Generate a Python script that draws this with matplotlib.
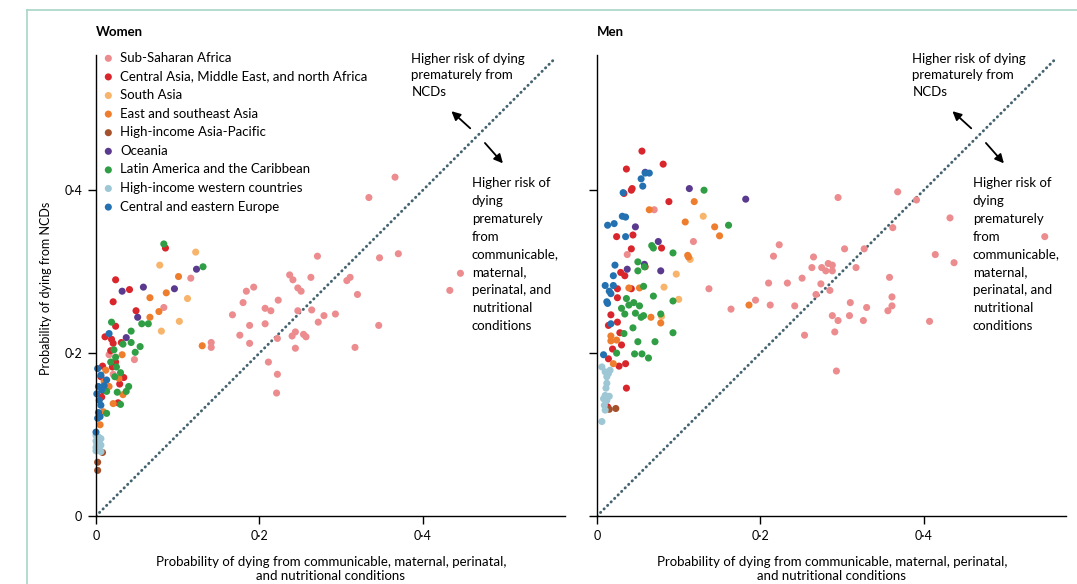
import matplotlib
matplotlib.use("Agg")
import matplotlib.pyplot as plt
from matplotlib import font_manager
from matplotlib.lines import Line2D

# ---- data: (x, y) = (communicable prob, NCD prob) -------------------------
regions = [
    "Sub-Saharan Africa",
    "Central Asia, Middle East, and north Africa",
    "South Asia",
    "East and southeast Asia",
    "High-income Asia-Pacific",
    "Oceania",
    "Latin America and the Caribbean",
    "High-income western countries",
    "Central and eastern Europe",
]
colors = ["#EC8C8E", "#D9262C", "#F7B46A", "#EE7E2D", "#A4512C",
          "#5A3A8E", "#2F9E44", "#9DC7D5", "#2471B1"]

women_ssa = [(0.366, 0.416), (0.334, 0.391), (0.271, 0.319), (0.347, 0.317), (0.370, 0.322),
             (0.446, 0.298), (0.433, 0.277), (0.116, 0.292), (0.237, 0.296), (0.241, 0.290),
             (0.263, 0.293), (0.247, 0.280), (0.251, 0.276), (0.184, 0.276), (0.193, 0.281),
             (0.180, 0.262), (0.223, 0.265), (0.207, 0.255), (0.214, 0.252), (0.167, 0.247),
             (0.247, 0.252), (0.264, 0.253), (0.311, 0.293), (0.307, 0.289), (0.320, 0.272),
             (0.279, 0.246), (0.293, 0.248), (0.272, 0.238), (0.188, 0.234), (0.207, 0.236),
             (0.176, 0.222), (0.188, 0.212), (0.222, 0.218), (0.240, 0.221), (0.244, 0.226),
             (0.254, 0.223), (0.257, 0.220), (0.244, 0.206), (0.317, 0.207), (0.346, 0.234),
             (0.211, 0.189), (0.222, 0.174), (0.221, 0.151), (0.141, 0.213), (0.141, 0.207),
             (0.083, 0.256), (0.047, 0.192), (0.016, 0.198), (0.021, 0.174)]
women_cme = [(0.085, 0.329), (0.024, 0.290), (0.041, 0.278), (0.021, 0.263), (0.049, 0.252),
             (0.024, 0.233), (0.011, 0.220), (0.019, 0.217), (0.021, 0.212), (0.031, 0.213),
             (0.018, 0.203), (0.024, 0.189), (0.008, 0.184), (0.020, 0.183), (0.006, 0.171),
             (0.034, 0.170), (0.029, 0.162), (0.007, 0.146), (0.027, 0.139), (0.008, 0.154)]
women_sa = [(0.122, 0.324), (0.078, 0.308), (0.112, 0.267), (0.102, 0.239), (0.080, 0.227)]
women_esa = [(0.101, 0.294), (0.086, 0.274), (0.066, 0.268), (0.077, 0.251), (0.066, 0.244),
             (0.130, 0.209), (0.032, 0.198), (0.012, 0.179), (0.010, 0.165), (0.016, 0.159),
             (0.028, 0.169), (0.033, 0.149), (0.021, 0.138), (0.009, 0.128), (0.005, 0.112)]
women_hap = [(0.008, 0.078), (0.002, 0.066), (0.002, 0.056)]
women_oce = [(0.123, 0.303), (0.058, 0.281), (0.032, 0.276), (0.096, 0.279), (0.051, 0.244),
             (0.037, 0.219)]
women_lac = [(0.083, 0.334), (0.131, 0.306), (0.056, 0.236), (0.064, 0.236), (0.019, 0.238),
             (0.043, 0.227), (0.043, 0.213), (0.054, 0.208), (0.048, 0.201), (0.033, 0.211),
             (0.022, 0.204), (0.018, 0.189), (0.024, 0.195), (0.025, 0.183), (0.030, 0.176),
             (0.023, 0.171), (0.040, 0.159), (0.037, 0.153), (0.026, 0.152), (0.013, 0.153),
             (0.030, 0.137), (0.013, 0.126)]
women_hiw = [(0.000, 0.099), (0.003, 0.097), (0.006, 0.095), (0.000, 0.092), (0.004, 0.091),
             (0.001, 0.088), (0.006, 0.087), (0.000, 0.084), (0.004, 0.082), (0.000, 0.080),
             (0.006, 0.079)]
women_cee = [(0.016, 0.224), (0.002, 0.181), (0.006, 0.173), (0.003, 0.159), (0.007, 0.155),
             (0.013, 0.167), (0.004, 0.142), (0.006, 0.136), (0.003, 0.127), (0.005, 0.122),
             (0.002, 0.120), (0.000, 0.103), (0.010, 0.160), (0.001, 0.150)]

men_ssa = [(0.070, 0.376), (0.118, 0.337), (0.037, 0.321), (0.137, 0.279), (0.164, 0.254),
           (0.194, 0.265), (0.212, 0.259), (0.210, 0.286), (0.216, 0.319), (0.223, 0.333),
           (0.295, 0.391), (0.368, 0.398), (0.391, 0.388), (0.432, 0.366), (0.362, 0.354),
           (0.548, 0.343), (0.265, 0.318), (0.303, 0.328), (0.327, 0.328), (0.414, 0.321),
           (0.437, 0.311), (0.263, 0.305), (0.275, 0.305), (0.283, 0.310), (0.288, 0.308),
           (0.280, 0.301), (0.288, 0.301), (0.317, 0.305), (0.251, 0.292), (0.233, 0.286),
           (0.274, 0.285), (0.358, 0.293), (0.285, 0.277), (0.268, 0.272), (0.361, 0.269),
           (0.242, 0.258), (0.310, 0.262), (0.330, 0.256), (0.361, 0.258), (0.356, 0.252),
           (0.288, 0.246), (0.309, 0.246), (0.295, 0.240), (0.326, 0.240), (0.407, 0.239),
           (0.291, 0.226), (0.254, 0.222), (0.293, 0.178)]
men_cme = [(0.055, 0.448), (0.081, 0.432), (0.036, 0.426), (0.043, 0.402), (0.042, 0.400),
           (0.033, 0.396), (0.088, 0.386), (0.024, 0.343), (0.044, 0.345), (0.042, 0.328),
           (0.079, 0.329), (0.029, 0.299), (0.034, 0.295), (0.025, 0.279), (0.025, 0.268),
           (0.042, 0.279), (0.017, 0.247), (0.014, 0.234), (0.025, 0.238), (0.028, 0.225),
           (0.030, 0.210), (0.019, 0.205), (0.014, 0.193), (0.027, 0.184), (0.035, 0.187),
           (0.036, 0.157), (0.013, 0.134)]
men_sa = [(0.130, 0.368), (0.114, 0.315), (0.097, 0.297), (0.082, 0.281), (0.100, 0.266),
          (0.079, 0.245)]
men_esa = [(0.119, 0.386), (0.064, 0.376), (0.108, 0.361), (0.144, 0.355), (0.150, 0.344),
           (0.111, 0.320), (0.112, 0.318), (0.039, 0.280), (0.052, 0.280), (0.066, 0.244),
           (0.078, 0.237), (0.017, 0.221), (0.017, 0.215), (0.024, 0.216), (0.020, 0.187),
           (0.186, 0.259)]
men_hap = [(0.023, 0.132), (0.015, 0.131), (0.059, 0.306)]
men_oce = [(0.059, 0.422), (0.113, 0.402), (0.182, 0.389), (0.047, 0.355), (0.075, 0.337),
           (0.058, 0.309), (0.037, 0.303), (0.078, 0.301)]
men_lac = [(0.131, 0.400), (0.161, 0.357), (0.067, 0.332), (0.069, 0.329), (0.093, 0.323),
           (0.050, 0.312), (0.058, 0.306), (0.050, 0.301), (0.057, 0.282), (0.069, 0.270),
           (0.036, 0.267), (0.093, 0.264), (0.030, 0.255), (0.039, 0.259), (0.045, 0.262),
           (0.052, 0.258), (0.034, 0.248), (0.047, 0.249), (0.054, 0.244), (0.057, 0.246),
           (0.078, 0.248), (0.044, 0.231), (0.033, 0.224), (0.050, 0.214), (0.071, 0.214),
           (0.093, 0.225), (0.046, 0.199), (0.055, 0.199), (0.063, 0.194), (0.024, 0.200)]
men_hiw = [(0.006, 0.183), (0.010, 0.177), (0.014, 0.175), (0.012, 0.171), (0.012, 0.163),
           (0.011, 0.157), (0.010, 0.148), (0.015, 0.147), (0.008, 0.144), (0.012, 0.142),
           (0.009, 0.136), (0.010, 0.130), (0.006, 0.116), (0.016, 0.179)]
men_cee = [(0.059, 0.421), (0.064, 0.421), (0.054, 0.414), (0.056, 0.405), (0.032, 0.397),
           (0.031, 0.368), (0.035, 0.367), (0.013, 0.357), (0.021, 0.359), (0.035, 0.343),
           (0.022, 0.308), (0.020, 0.295), (0.010, 0.283), (0.020, 0.283), (0.015, 0.276),
           (0.017, 0.273), (0.012, 0.263), (0.013, 0.261), (0.017, 0.236), (0.008, 0.198)]

women = [women_ssa, women_cme, women_sa, women_esa, women_hap,
         women_oce, women_lac, women_hiw, women_cee]
men = [men_ssa, men_cme, men_sa, men_esa, men_hap,
       men_oce, men_lac, men_hiw, men_cee]

xticks = [0, 0.2, 0.4]
tick_labels = ["0", "0·2", "0·4"]

# ---- fonts ------------------------------------------------------------------
names = {f.name for f in font_manager.fontManager.ttflist}
main_font = "Lato" if "Lato" in names else "DejaVu Sans"
plt.rcParams["font.family"] = [main_font, "DejaVu Sans"]

W, H = 1077, 584
fig = plt.figure(figsize=(W / 100, H / 100), dpi=100)

# light frame of the source page
fig.add_artist(Line2D([27 / W, 27 / W], [0, 1 - 10 / H], color="#A7D5C5", lw=1.2))
fig.add_artist(Line2D([27 / W, 1], [1 - 10 / H, 1 - 10 / H], color="#A7D5C5", lw=1.2))

ax_w = 469 / W
ax_h = 461 / H
bottom = 1 - 516 / H
axes = [fig.add_axes([96 / W, bottom, ax_w, ax_h]),
        fig.add_axes([597 / W, bottom, ax_w, ax_h])]

arrow_kw = dict(arrowstyle="-|>", color="black", lw=1.3,
                mutation_scale=13, shrinkA=0, shrinkB=0)

for ax, data, title in zip(axes, [women, men], ["Women", "Men"]):
    ax.plot([0, 0.56], [0, 0.56], ls=(0, (0.1, 1.6)), lw=2.1, color="#44636F",
            dash_capstyle="round", zorder=1)
    for pts, col, lab in zip(data, colors, regions):
        xs = [p[0] for p in pts]
        ys = [p[1] for p in pts]
        ax.scatter(xs, ys, s=26, color=col, edgecolors="none", label=lab,
                   zorder=2, clip_on=False)
    ax.set_xlim(0, 0.574)
    ax.set_ylim(0, 0.566)
    for s in ["top", "right"]:
        ax.spines[s].set_visible(False)
    for s in ["left", "bottom"]:
        ax.spines[s].set_linewidth(1.0)
    ax.set_xticks(xticks)
    ax.set_xticklabels(tick_labels, fontsize=9)
    ax.set_yticks(xticks)
    ax.tick_params(direction="out", length=6, width=1, pad=4)
    ax.set_xlabel("Probability of dying from communicable, maternal, perinatal,\n"
                  "and nutritional conditions", fontsize=9.5, linespacing=1.22)
    ax.xaxis.set_label_coords(0.501, -0.087)
    ax.text(0, 1.05, title, transform=ax.transAxes, fontsize=9.5,
            fontweight="bold", va="center", ha="left")

    ax.text(0.386, 0.569, "Higher risk of dying\nprematurely from\nNCDs",
            fontsize=9.5, va="top", ha="left", linespacing=1.45)
    ax.annotate("", xy=(0.435, 0.497), xytext=(0.458, 0.476), arrowprops=arrow_kw)
    ax.annotate("", xy=(0.498, 0.433), xytext=(0.476, 0.458), arrowprops=arrow_kw)
    ax.text(0.460, 0.416, "Higher risk of\ndying\nprematurely\nfrom\ncommunicable,\n"
            "maternal,\nperinatal, and\nnutritional\nconditions",
            fontsize=9.5, va="top", ha="left", linespacing=1.58)

axes[0].set_yticklabels(tick_labels, fontsize=9)
axes[1].set_yticklabels([])
axes[0].set_ylabel("Probability of dying from NCDs", fontsize=9, labelpad=11)
axes[0].yaxis.set_label_coords(-0.094, 0.494)

leg = axes[0].legend(loc="upper left", bbox_to_anchor=(0.015, 1.007), frameon=False,
                     handlelength=0.8, handletextpad=0.5, labelspacing=0.5,
                     borderpad=0, borderaxespad=0, fontsize=9.5, markerscale=1.0)

fig.savefig("out.png", dpi=100)
